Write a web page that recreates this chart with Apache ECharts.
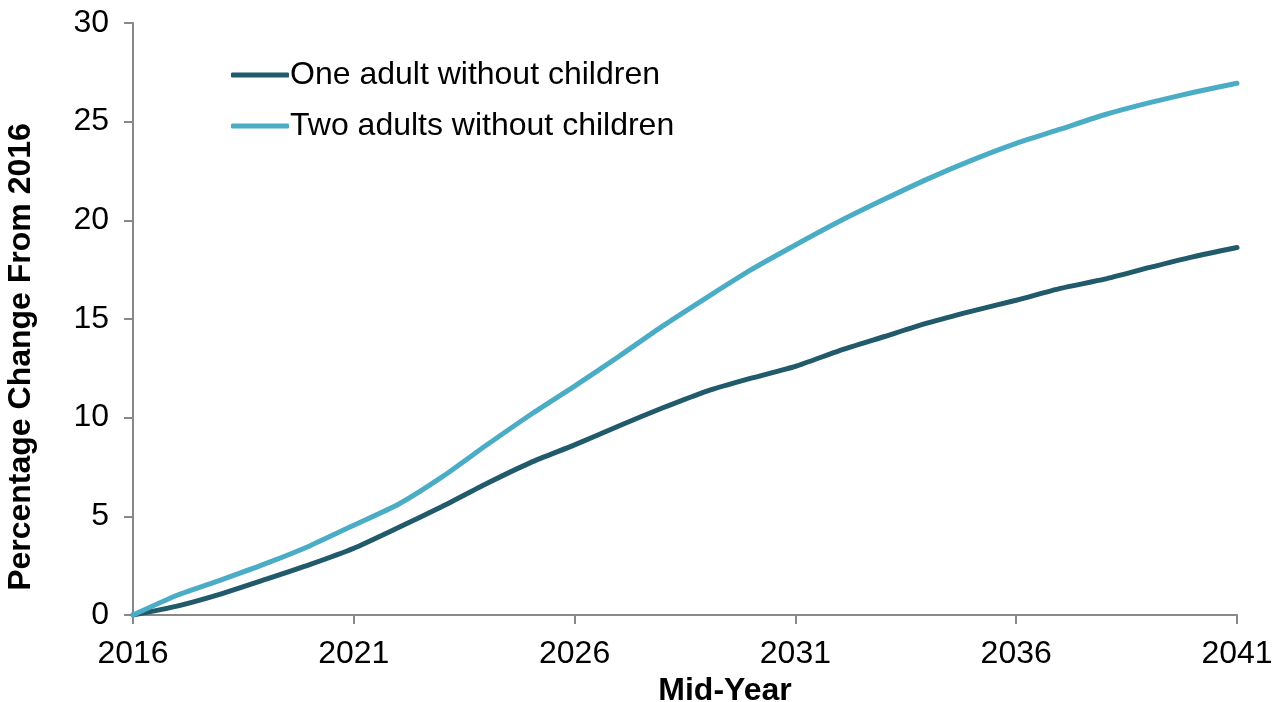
<!DOCTYPE html>
<html>
<head>
<meta charset="utf-8">
<script src="https://cdn.jsdelivr.net/npm/echarts@6/dist/echarts.min.js"></script>
<style>
  html, body { margin: 0; padding: 0; background: #fff; }
  #chart { width: 1279px; height: 702px; }
</style>
</head>
<body>
<div id="chart"></div>
<script>
const years = ['2016','2017','2018','2019','2020','2021','2022','2023','2024','2025','2026','2027','2028',
  '2029','2030','2031','2032','2033','2034','2035','2036','2037','2038','2039','2040','2041']
const oneAdult = [0, 0.45, 1.07, 1.8, 2.55, 3.38, 4.42, 5.5, 6.65, 7.72, 8.62, 9.58, 10.5,
  11.35, 12.0, 12.6, 13.4, 14.1, 14.8, 15.4, 15.95, 16.55, 17.02, 17.6, 18.15, 18.62]
const twoAdults = [0, 1.0, 1.78, 2.6, 3.5, 4.55, 5.6, 7.0, 8.6, 10.15, 11.6, 13.1, 14.65,
  16.1, 17.5, 18.75, 19.95, 21.05, 22.1, 23.05, 23.9, 24.62, 25.35, 25.95, 26.48, 26.95]
const seriesNames = ['One adult without children', 'Two adults without children']
const seriesColors = ['#215B6B', '#4BACC6']

const font = 'Liberation Sans, Arial, sans-serif'
const axisGray = '#898989'

const chart = echarts.init(document.getElementById('chart'))

const option = {
  animation: false,
  textStyle: { fontFamily: font },
  grid: { left: 133, right: 42, top: 23, bottom: 87, outerBoundsMode: 'none', containLabel: false },
  legend: {
    orient: 'vertical',
    left: 226,
    top: 54,
    itemWidth: 58,
    itemHeight: 5,
    itemGap: 19,
    icon: 'roundRect',
    textStyle: { fontSize: 32, color: '#000', fontFamily: font, padding: [0, 0, 0, -4] },
    data: seriesNames
  },
  xAxis: {
    type: 'category',
    data: years,
    boundaryGap: false,
    name: 'Mid-Year',
    nameLocation: 'middle',
    nameGap: 51,
    nameTextStyle: { fontSize: 32, fontWeight: 'bold', color: '#000', padding: [0, 0, 0, 80] },
    axisLine: { lineStyle: { color: axisGray, width: 2 } },
    axisTick: { interval: 4, length: 9, lineStyle: { color: axisGray, width: 2 } },
    axisLabel: { interval: 4, fontSize: 32, color: '#000', margin: 23 },
    splitLine: { show: false }
  },
  yAxis: {
    type: 'value',
    min: 0,
    max: 30,
    interval: 5,
    name: 'Percentage Change From 2016',
    nameLocation: 'middle',
    nameGap: 96,
    nameTextStyle: { fontSize: 32, fontWeight: 'bold', color: '#000', padding: [0, 76, 0, 0] },
    axisLine: { show: true, lineStyle: { color: axisGray, width: 2 } },
    axisTick: { show: true, length: 9, lineStyle: { color: axisGray, width: 2 } },
    axisLabel: { fontSize: 32, color: '#000', margin: 24 },
    splitLine: { show: false }
  },
  series: [
    {
      name: seriesNames[0],
      type: 'line',
      data: oneAdult,
      symbol: 'none',
      smooth: 0.2,
      color: seriesColors[0],
      lineStyle: { width: 5, color: seriesColors[0], cap: 'round' }
    },
    {
      name: seriesNames[1],
      type: 'line',
      data: twoAdults,
      symbol: 'none',
      smooth: 0.2,
      color: seriesColors[1],
      lineStyle: { width: 5, color: seriesColors[1], cap: 'round' }
    }
  ]
}

chart.setOption(option)
</script>
</body>
</html>
